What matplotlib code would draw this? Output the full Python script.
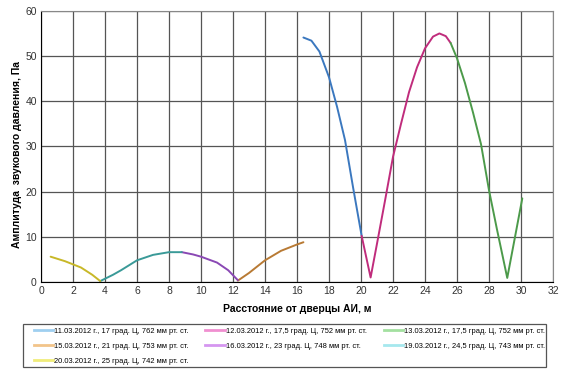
import matplotlib.pyplot as plt
from matplotlib.lines import Line2D
from matplotlib.patches import Rectangle

plt.rcParams['font.family'] = ['Liberation Sans', 'DejaVu Sans']

# series: distance (m), amplitude (Pa)
x_1103 = [16.4, 16.9, 17.4, 18.0, 18.5, 19.0, 19.5, 20.04]
y_1103 = [54.1, 53.4, 51.0, 45.3, 38.8, 31.4, 21.0, 10.2]
x_1203 = [20.04, 20.6, 21.0, 21.5, 22.0, 22.5, 23.0, 23.5, 24.0, 24.5, 24.9, 25.3, 25.6]
y_1203 = [10.2, 1.0, 8.5, 18.0, 27.7, 35.0, 42.0, 47.5, 51.7, 54.3, 55.0, 54.4, 52.9]
x_1303 = [25.6, 26.0, 26.5, 27.0, 27.5, 28.0, 28.5, 29.14, 29.6, 30.08]
y_1303 = [52.9, 49.5, 44.0, 37.5, 30.5, 20.3, 11.6, 0.9, 9.5, 18.5]
x_1503 = [12.3, 13.0, 14.0, 15.0, 16.0, 16.4]
y_1503 = [0.3, 2.0, 4.8, 6.9, 8.3, 8.8]
x_1603 = [8.8, 9.5, 10.0, 11.0, 11.7, 12.3]
y_1603 = [6.6, 6.1, 5.6, 4.3, 2.6, 0.4]
x_1903 = [3.7, 4.5, 5.0, 6.0, 7.0, 8.0, 8.8]
y_1903 = [0.2, 1.6, 2.6, 4.8, 6.0, 6.6, 6.6]
x_2003 = [0.6, 1.5, 2.5, 3.2, 3.7]
y_2003 = [5.6, 4.6, 3.2, 1.6, 0.2]

labels = ['11.03.2012 г., 17 град. Ц, 762 мм рт. ст.',
          '12.03.2012 г., 17,5 град. Ц, 752 мм рт. ст.',
          '13.03.2012 г., 17,5 град. Ц, 752 мм рт. ст.',
          '15.03.2012 г., 21 град. Ц, 753 мм рт. ст.',
          '16.03.2012 г., 23 град. Ц, 748 мм рт. ст.',
          '19.03.2012 г., 24,5 град. Ц, 743 мм рт. ст.',
          '20.03.2012 г., 25 град. Ц, 742 мм рт. ст.']
xs = [x_1103, x_1203, x_1303, x_1503, x_1603, x_1903, x_2003]
ys = [y_1103, y_1203, y_1303, y_1503, y_1603, y_1903, y_2003]
line_colors = ['#3b78bf', '#c02c7c', '#4c9a4a', '#b87a34', '#8a48b4', '#3a9a98', '#c8b828']
legend_colors = ['#9fcff0', '#f08fd0', '#a3e0a0', '#f2c48a', '#d596f0', '#a6e8ee', '#f0ec7a']

fig = plt.figure(figsize=(5.62, 3.74), dpi=100)
ax = fig.add_axes([0.073, 0.246, 0.911, 0.725])

for x, y, c in zip(xs, ys, line_colors):
    ax.plot(x, y, color=c, lw=1.4, solid_capstyle='round')

ax.set_xlim(0, 32)
ax.set_ylim(0, 60)
ax.set_xticks(range(0, 33, 2))
ax.set_yticks(range(0, 61, 10))
ax.grid(True, color='#555555', lw=0.9)
ax.set_axisbelow(True)
ax.tick_params(labelsize=7.5, length=0, pad=3, colors='#333333')
for s in ['left', 'bottom']:
    ax.spines[s].set_color('black')
for s in ['top', 'right']:
    ax.spines[s].set_color('#888888')

ax.set_xlabel('Расстояние от дверцы АИ, м', fontsize=7.5, fontweight='bold', labelpad=6)
ax.set_ylabel('Амплитуда  звукового давления, Па', fontsize=7.5, fontweight='bold')
ax.yaxis.set_label_coords(-0.037, 0.47)

# legend box drawn separately, entries placed inside
fig.add_artist(Rectangle((0.041, 0.019), 0.931, 0.115, transform=fig.transFigure,
                         fill=False, edgecolor='#555555', lw=0.9))
order = [0, 3, 6, 1, 4, 2, 5]
handles = [Line2D([], [], color=legend_colors[i], lw=2) for i in order]
fig.legend(handles, [labels[i] for i in order], ncol=3, fontsize=5.4,
           loc='upper left', bbox_to_anchor=(0.060, 0.124),
           frameon=False, handlelength=2.6, handletextpad=0.15,
           columnspacing=2.2, labelspacing=1.05, borderpad=0, borderaxespad=0)

fig.savefig('out.png', dpi=100)
